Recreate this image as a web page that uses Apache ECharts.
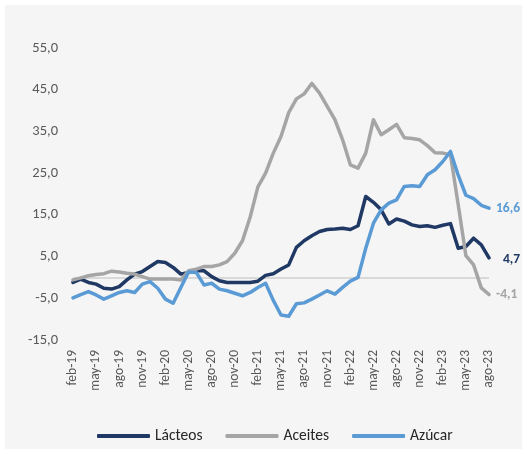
<!DOCTYPE html>
<html>
<head>
<meta charset="utf-8">
<script src="https://cdn.jsdelivr.net/npm/echarts@6/dist/echarts.min.js"></script>
<style>
  html, body { margin: 0; padding: 0; background: #ffffff; }
  #chart { width: 527px; height: 454px; background: #f5f5f5; box-shadow: inset 0 0 0 5px #ffffff; }
</style>
</head>
<body>
<div id="chart"></div>
<script>
const months = ['ene','feb','mar','abr','may','jun','jul','ago','sep','oct','nov','dic'];
const categories = [];
for (let y = 19; y <= 23; y++) {
  for (let m = 0; m < 12; m++) {
    if (y === 19 && m < 1) continue;
    if (y === 23 && m > 7) continue;
    categories.push(months[m] + '-' + y);
  }
}

const lacteos = [
  -1.2, -0.4, -1.2, -1.6, -2.6, -2.8, -2.2, -0.6, 0.8, 1.4,
  2.6, 3.8, 3.6, 2.4, 0.8, 1.2, 1.6, 1.6, 0.2, -0.8,
  -1.2, -1.2, -1.2, -1.2, -0.9, 0.5, 0.9, 2.0, 3.0, 7.2,
  8.8, 10.0, 11.0, 11.5, 11.6, 11.8, 11.5, 12.4, 19.4, 18.0,
  16.2, 12.8, 14.0, 13.5, 12.6, 12.2, 12.4, 12.0, 12.5, 12.9,
  7.0, 7.4, 9.4, 7.8, 4.7
];
const aceites = [
  -0.6, -0.1, 0.4, 0.7, 0.9, 1.5, 1.3, 1.0, 0.8, 0.2,
  -0.4, -0.4, -0.4, -0.4, -0.6, 1.6, 2.0, 2.6, 2.6, 3.0,
  3.8, 5.8, 8.8, 14.5, 21.7, 25.0, 29.8, 33.8, 39.5, 42.8,
  44.0, 46.5, 44.2, 41.0, 37.8, 33.0, 27.0, 26.2, 29.8, 37.8,
  34.2, 35.4, 36.7, 33.5, 33.3, 33.0, 31.6, 29.9, 29.8, 29.4,
  17.5, 5.2, 3.0, -2.5, -4.1
];
const azucar = [
  -4.9, -4.1, -3.4, -4.2, -5.2, -4.4, -3.6, -3.2, -3.6, -1.6,
  -1.0, -2.6, -5.2, -6.2, -2.4, 1.3, 1.2, -1.8, -1.4, -2.8,
  -3.2, -3.8, -4.4, -3.6, -2.4, -1.4, -5.5, -9.0, -9.3, -6.3,
  -6.1, -5.2, -4.2, -3.2, -4.0, -2.4, -0.9, 0.0, 7.0, 13.0,
  16.2, 17.8, 18.6, 21.8, 22.0, 21.8, 24.6, 25.8, 27.8, 30.2,
  24.5, 19.7, 18.9, 17.3, 16.6
];
const seriesNames = ['Lácteos', 'Aceites', 'Azúcar'];
const colors = ['#1F3864', '#A5A5A5', '#5B9BD5'];

const FONT = 'Carlito, Calibri, Lato, sans-serif';
const fmt = v => v.toFixed(1).replace('.', ',');

const chart = echarts.init(document.getElementById('chart'));
const mk = (name, data, color, offset) => ({
  name, type: 'line', data,
  symbol: 'none', smooth: false,
  lineStyle: { color, width: 3.5, join: 'round', cap: 'round' },
  itemStyle: { color },
  endLabel: {
    show: true, distance: 7, offset: offset,
    formatter: p => fmt(p.value),
    color, fontWeight: 'bold', fontSize: 13.5, fontFamily: FONT
  }
});

const s = [
  mk(seriesNames[0], lacteos, colors[0], [7, 2]),
  mk(seriesNames[1], aceites, colors[1], [0, 0]),
  mk(seriesNames[2], azucar, colors[2], [0, 0])
];
s[0].markLine = {
  silent: true, symbol: 'none', label: { show: false },
  lineStyle: { color: '#d9d9d9', width: 2, type: 'solid' },
  data: [{ yAxis: 0 }], z: 1
};

chart.setOption({
  animation: false,
  textStyle: { fontFamily: FONT },
  grid: { left: 73, right: 38, top: 48, bottom: 114 },
  xAxis: {
    type: 'category', data: categories, boundaryGap: false,
    axisLine: { show: false, onZero: false },
    axisTick: { show: false },
    axisLabel: { interval: 2, rotate: 90, color: '#595959', fontSize: 13.5, margin: 10, fontFamily: FONT },
    splitLine: { show: false }
  },
  yAxis: {
    type: 'value', min: -15, max: 55, interval: 5,
    axisLine: { show: false }, axisTick: { show: false },
    splitLine: { show: false },
    axisLabel: {
      color: '#595959', fontSize: 14.5, margin: 15, fontFamily: FONT,
      formatter: v => (Math.round(v + 15) % 10 === 0 ? fmt(v) : '')
    }
  },
  legend: {
    data: seriesNames, left: 92, top: 423,
    icon: 'roundRect', itemWidth: 53, itemHeight: 4, itemGap: 23,
    textStyle: { color: '#262626', fontSize: 15.5, fontFamily: FONT }
  },
  series: s
});
</script>
</body>
</html>
